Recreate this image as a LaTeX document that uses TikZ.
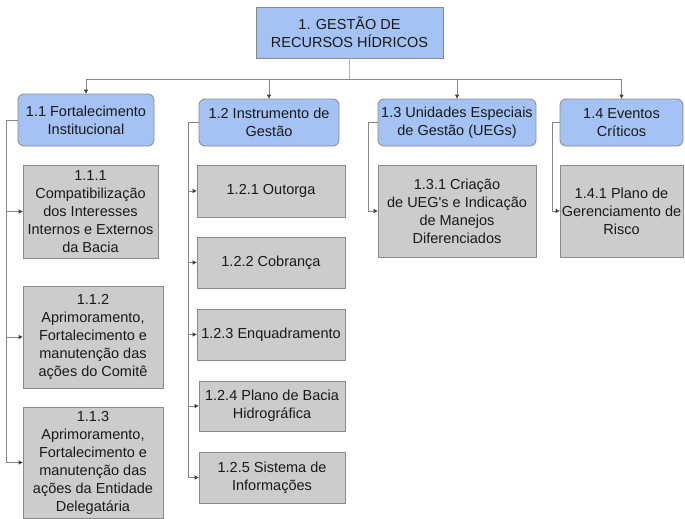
\documentclass[tikz,border=0pt]{standalone}
\usepackage{fontspec}
\setmainfont{Liberation Sans}
\usetikzlibrary{arrows.meta}
\definecolor{bluefill}{HTML}{A4C2F4}
\definecolor{greyfill}{HTML}{CCCCCC}
\definecolor{edgecol}{HTML}{8A8A8A}
\definecolor{linecol}{HTML}{858585}
\definecolor{stemcol}{HTML}{B5B5B5}
\definecolor{tipcol}{HTML}{404040}
\tikzset{
  base/.style={draw=edgecol, line width=0.8pt, inner sep=0pt, align=center,
    font=\fontsize{14.5}{18}\selectfont, text=black!90},
  rootbox/.style={base, fill=bluefill},
  bluebox/.style={base, fill=bluefill, rounded corners=6pt},
  greybox/.style={base, fill=greyfill},
  conn/.style={draw=linecol, line width=0.8pt,
    -{Triangle[length=4pt,width=4pt,fill=tipcol,color=tipcol]}},
  stem/.style={draw=stemcol, line width=0.8pt},
}
\begin{document}
\begin{tikzpicture}[x=1pt,y=-1pt]
\useasboundingbox (0,0) rectangle (685,519);
% root
\node[rootbox, minimum width=187pt, minimum height=51pt] (root) at (349.5,32.5)
  {1. GESTÃO DE\\RECURSOS HÍDRICOS};
% level 1
\node[bluebox, minimum width=136pt, minimum height=52pt] (b11) at (86,120)
  {1.1 Fortalecimento\\Institucional};
\node[bluebox, minimum width=140pt, minimum height=47pt] (b12) at (269,122.5)
  {1.2 Instrumento de\\Gestão};
\node[bluebox, minimum width=158pt, minimum height=47pt] (b13) at (457,122.5)
  {1.3 Unidades Especiais\\de Gestão (UEGs)};
\node[bluebox, minimum width=123pt, minimum height=47pt] (b14) at (621.5,122.5)
  {1.4 Eventos\\Críticos};
% level 2 - 1.1
\node[greybox, minimum width=135pt, minimum height=93pt] (b111) at (90.5,211.5)
  {1.1.1\\Compatibilização\\dos Interesses\\Internos e Externos\\da Bacia};
\node[greybox, minimum width=140pt, minimum height=102pt] (b112) at (93,337)
  {1.1.2\\Aprimoramento,\\Fortalecimento e\\manutenção das\\ações do Comitê};
\node[greybox, minimum width=140pt, minimum height=111pt] (b113) at (93,462.5)
  {1.1.3\\Aprimoramento,\\Fortalecimento e\\manutenção das\\ações da Entidade\\Delegatária};
% level 2 - 1.2
\node[greybox, minimum width=148pt, minimum height=52pt] (b121) at (271,191)
  {1.2.1 Outorga};
\node[greybox, minimum width=148pt, minimum height=51pt] (b122) at (271,262.5)
  {1.2.2 Cobrança};
\node[greybox, minimum width=148pt, minimum height=51pt] (b123) at (271,334.5)
  {1.2.3 Enquadramento};
\node[greybox, minimum width=146pt, minimum height=50pt] (b124) at (272,406)
  {1.2.4 Plano de Bacia\\Hidrográfica};
\node[greybox, minimum width=146pt, minimum height=51pt] (b125) at (272,477.5)
  {1.2.5 Sistema de\\Informações};
% level 2 - 1.3 / 1.4
\node[greybox, minimum width=158pt, minimum height=92pt] (b131) at (457,211)
  {1.3.1 Criação\\de UEG\textquotesingle s e Indicação\\de Manejos\\Diferenciados};
\node[greybox, minimum width=123pt, minimum height=92pt] (b141) at (621.5,211)
  {1.4.1 Plano de\\Gerenciamento de\\Risco};
% bus
\coordinate (bus) at (349.5,79);
\draw[stem] (root.south) -- (bus);
\draw[conn] (bus) -| (b11.north);
\draw[conn] (bus) -| (b12.north);
\draw[conn] (bus) -| (b13.north);
\draw[conn] (bus) -| (b14.north);
% side spines
\coordinate (v11) at (6,120);
\coordinate (v12) at (188,122.5);
\coordinate (v13) at (368,122.5);
\coordinate (v14) at (552,122.5);
\draw[conn] (b11.west) -- (v11) |- (b111.west);
\draw[conn] (b11.west) -- (v11) |- (b112.west);
\draw[conn] (b11.west) -- (v11) |- (b113.west);
\draw[conn] (b12.west) -- (v12) |- (b121.west);
\draw[conn] (b12.west) -- (v12) |- (b122.west);
\draw[conn] (b12.west) -- (v12) |- (b123.west);
\draw[conn] (b12.west) -- (v12) |- (b124.west);
\draw[conn] (b12.west) -- (v12) |- (b125.west);
\draw[conn] (b13.west) -- (v13) |- (b131.west);
\draw[conn] (b14.west) -- (v14) |- (b141.west);
\end{tikzpicture}
\end{document}
